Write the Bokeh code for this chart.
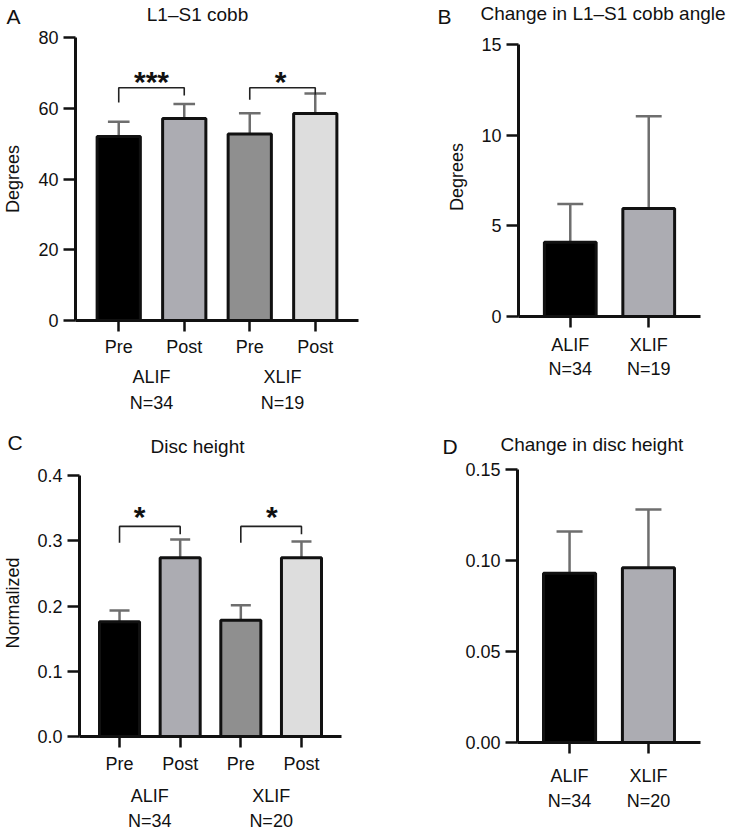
from bokeh.plotting import figure
from bokeh.models import FixedTicker, Range1d, PrintfTickFormatter, LinearAxis
from bokeh.layouts import row, column
from bokeh.embed import file_html
from bokeh.resources import INLINE
from bokeh.core.properties import value

FONT = "Liberation Sans"
TXT = "#111111"

# ---------------- data ----------------
# Panel A: L1-S1 cobb
cobb_labels = ["Pre", "Post", "Pre", "Post"]
cobb_mean = [52.0, 57.1, 52.7, 58.5]
cobb_sd = [4.2, 4.1, 5.9, 5.7]
cobb_groups = ["ALIF", "XLIF"]
cobb_n = ["N=34", "N=19"]
cobb_yticks = [0, 20, 40, 60, 80]
cobb_brk_left_low = [61.6, 62.4]
cobb_brk_right_low = [63.6, 63.8]
cobb_brk_top = [65.8, 65.8]
cobb_stars = ["***", "*"]
cobb_star_x = [0.5, 2.47]
cobb_star_y = [67.6, 67.6]

# Panel B: change in L1-S1 cobb angle
dcobb_labels = ["ALIF", "XLIF"]
dcobb_n = ["N=34", "N=19"]
dcobb_mean = [4.1, 5.95]
dcobb_sd = [2.1, 5.1]
dcobb_yticks = [0, 5, 10, 15]

# Panel C: disc height
disc_labels = ["Pre", "Post", "Pre", "Post"]
disc_mean = [0.176, 0.274, 0.178, 0.274]
disc_sd = [0.017, 0.028, 0.023, 0.025]
disc_groups = ["ALIF", "XLIF"]
disc_n = ["N=34", "N=20"]
disc_yticks = [0.0, 0.1, 0.2, 0.3, 0.4]
disc_brk_left_low = [0.297, 0.297]
disc_brk_right_low = [0.310, 0.310]
disc_brk_top = [0.322, 0.322]
disc_stars = ["*", "*"]
disc_star_x = [0.33, 2.51]
disc_star_y = [0.337, 0.337]

# Panel D: change in disc height
ddisc_labels = ["ALIF", "XLIF"]
ddisc_n = ["N=34", "N=20"]
ddisc_mean = [0.093, 0.096]
ddisc_sd = [0.023, 0.032]
ddisc_yticks = [0.00, 0.05, 0.10, 0.15]

titles = ["L1\u2013S1 cobb", "Change in L1\u2013S1 cobb angle", "Disc height", "Change in disc height"]
letters = ["A", "B", "C", "D"]

colors4 = ["#000000", "#acacb2", "#8f8f8f", "#dddddd"]
colors2 = ["#000000", "#acacb2"]

BAR_W = 0.66
CAP_W = 0.33


def style_axis(ax, size="18px"):
    ax.axis_line_width = 3
    ax.axis_line_color = "#111111"
    ax.major_tick_line_width = 2.5
    ax.major_tick_line_color = "#111111"
    ax.major_tick_in = 0
    ax.minor_tick_line_color = None
    ax.major_label_text_font = FONT
    ax.major_label_text_font_size = size
    ax.major_label_text_color = TXT


def text_axis(p, ticks, labels, standoff):
    ax = LinearAxis(ticker=FixedTicker(ticks=ticks),
                    major_label_overrides={t: s for t, s in zip(ticks, labels)})
    style_axis(ax)
    ax.axis_line_color = None
    ax.major_tick_line_color = None
    ax.major_tick_out = 0
    ax.major_label_standoff = standoff
    p.add_layout(ax, "below")


def panel(n, ytop, yticks, fmt, fw, fh, axis_h, bl, bt, br, bb, labels, mean, sd,
          colors, xstandoff, ylabel=None, ylabel_standoff=0):
    xs = list(range(n))
    yend = ytop * fh / axis_h
    p = figure(title=None, x_range=Range1d(-0.66, n - 1 + 0.66), y_range=Range1d(0, yend),
               frame_width=fw, frame_height=fh, min_border_left=bl, min_border_top=bt,
               min_border_right=br, min_border_bottom=bb,
               toolbar_location=None, output_backend="svg")
    p.outline_line_color = None
    p.grid.visible = False
    p.background_fill_color = "white"
    p.border_fill_color = "white"
    style_axis(p.xaxis[0])
    style_axis(p.yaxis[0])
    p.yaxis[0].major_tick_out = 12
    p.xaxis[0].major_tick_out = 11
    p.yaxis[0].ticker = FixedTicker(ticks=yticks)
    p.yaxis[0].bounds = (0, ytop)
    if fmt:
        p.yaxis[0].formatter = PrintfTickFormatter(format=fmt)
    p.yaxis[0].major_label_standoff = 5
    if ylabel:
        p.yaxis[0].axis_label = ylabel
        p.yaxis[0].axis_label_text_font = FONT
        p.yaxis[0].axis_label_text_font_size = "18px"
        p.yaxis[0].axis_label_text_font_style = "normal"
        p.yaxis[0].axis_label_text_color = TXT
        p.yaxis[0].axis_label_standoff = ylabel_standoff
    p.xaxis[0].ticker = FixedTicker(ticks=xs)
    p.xaxis[0].major_label_overrides = {i: t for i, t in enumerate(labels)}
    p.xaxis[0].major_label_standoff = xstandoff

    upper = [m + s for m, s in zip(mean, sd)]
    p.segment(x0=xs, y0=mean, x1=xs, y1=upper, line_color="#6e6e6e", line_width=2.5)
    p.segment(x0=[x - CAP_W / 2 for x in xs], y0=upper, x1=[x + CAP_W / 2 for x in xs],
              y1=upper, line_color="#6e6e6e", line_width=2.5)
    p.vbar(x=xs, top=mean, bottom=0, width=BAR_W, fill_color=colors,
           line_color="#111111", line_width=3)
    return p


def brackets(p, left_low, right_low, top, stars, sx, sy):
    xs, ys = [], []
    for i, (a, b, t) in enumerate(zip(left_low, right_low, top)):
        x0 = 2 * i
        xs.append([x0, x0, x0 + 1, x0 + 1])
        ys.append([a, t, t, b])
    p.multi_line(xs=xs, ys=ys, line_color="#222222", line_width=1.6)
    p.text(x=sx, y=sy, text=stars, text_font=value(FONT), text_font_size="30px",
           text_font_style="bold", text_align="center", text_baseline="middle",
           text_color=TXT)


def header(w, h):
    p = figure(title=None, width=w, height=h, x_range=Range1d(0, w), y_range=Range1d(h, 0),
               min_border=0, x_axis_type=None, y_axis_type=None,
               toolbar_location=None, output_backend="svg")
    p.outline_line_color = None
    p.grid.visible = False
    p.background_fill_color = "white"
    p.border_fill_color = "white"
    return p


def htext(p, x, y, t, size, align):
    p.text(x=[x], y=[y], text=[t], text_font=value(FONT), text_font_size=size,
           text_align=align, text_baseline="alphabetic", text_color=TXT)


W = 728
WA = 370

# header 1 (page y 0..28)
h1 = header(W, 28)
htext(h1, 6, 16, letters[0], "21px", "left")
htext(h1, 197, 14, titles[0], "19px", "center")
htext(h1, 437, 16, letters[1], "21px", "left")
htext(h1, 480, 13, titles[1], "19px", "left")

# row 1 (page y 28..416): frames top at 37
pA = panel(4, 80, cobb_yticks, None, 283, 283, 283, 70, 9, WA - 353, 96, cobb_labels,
           cobb_mean, cobb_sd, colors4, 5, "Degrees", 12)
text_axis(pA, [0.5, 2.5], cobb_groups, 7)
text_axis(pA, [0.5, 2.5], cobb_n, 3)
brackets(pA, cobb_brk_left_low, cobb_brk_right_low, cobb_brk_top, cobb_stars,
         cobb_star_x, cobb_star_y)

pB = panel(2, 15, dcobb_yticks, None, 182, 279, 272, 513 - WA, 9, W - 695, 100,
           dcobb_labels, dcobb_mean, dcobb_sd, colors2, 7, "Degrees", 11)
text_axis(pB, [0, 1], dcobb_n, 1)

# header 2 (page y 416..460)
h2 = header(W, 44)
htext(h2, 7, 26, letters[2], "21px", "left")
htext(h2, 197, 30, titles[2], "19px", "center")
htext(h2, 442, 30, letters[3], "21px", "left")
htext(h2, 500, 28, titles[3], "19px", "left")

# row 2 (page y 460..831): frames top at 469
pC = panel(4, 0.4, disc_yticks, "%.1f", 262, 267, 261, 75, 9, WA - 337, 95, disc_labels,
           disc_mean, disc_sd, colors4, 6, "Normalized", 11)
text_axis(pC, [0.5, 2.5], disc_groups, 9)
text_axis(pC, [0.5, 2.5], disc_n, 2)
brackets(pC, disc_brk_left_low, disc_brk_right_low, disc_brk_top, disc_stars,
         disc_star_x, disc_star_y)

pD = panel(2, 0.15, ddisc_yticks, "%.2f", 183, 273, 273, 513 - WA, 9, W - 696, 89,
           ddisc_labels, ddisc_mean, ddisc_sd, colors2, 12)
text_axis(pD, [0, 1], ddisc_n, 2)

layout = column(h1, row(pA, pB), h2, row(pC, pD))
open("out.html", "w").write(file_html(layout, INLINE))
